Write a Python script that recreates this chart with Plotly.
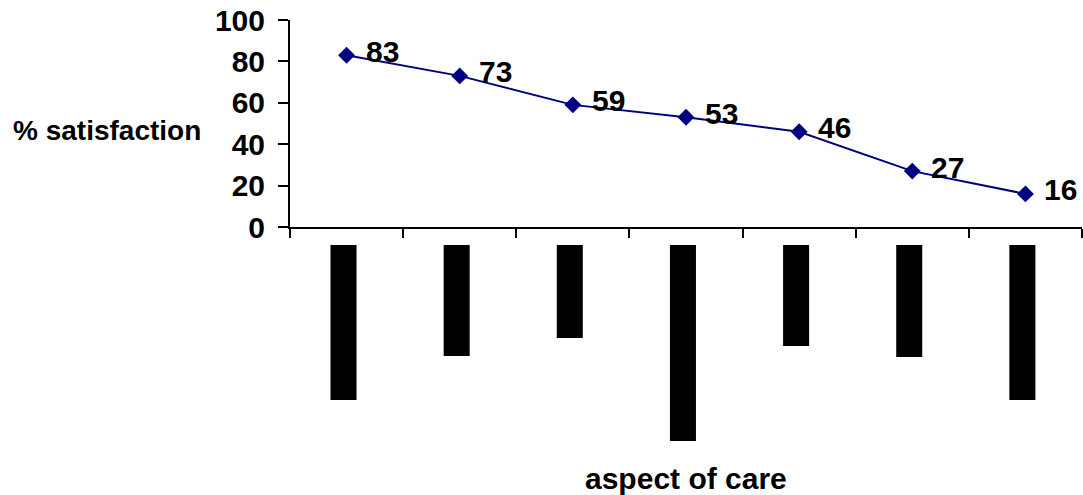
import plotly.graph_objects as go

# Aspects of care (seven items along the x axis) and satisfaction scores
aspects = ["A1", "A2", "A3", "A4", "A5", "A6", "A7"]
satisfaction = [83, 73, 59, 53, 46, 27, 16]

# Length of each (masked) category label block beneath the axis
label_block_length = [155, 111, 93, 196, 101, 112, 155]

y_ticks = [0, 20, 40, 60, 80, 100]

W, H = 1083, 495
ML, MR, MT, MB = 290, 1, 20, 0
plot_h = H - MT - MB
plot_w = W - ML - MR

def frac(py):
    # convert a pixel row (from the top) into a paper fraction
    return (H - MB - py) / plot_h

font_family = "Liberation Sans, Arial, sans-serif"

fig = go.Figure()

fig.add_trace(go.Scatter(
    x=aspects, y=satisfaction,
    mode="lines+markers",
    line=dict(color="#000080", width=2),
    marker=dict(symbol="diamond", size=13, color="#000080"),
    showlegend=False,
    yaxis="y",
))

fig.add_trace(go.Bar(
    x=aspects, y=[-v for v in label_block_length],
    marker=dict(color="black", line=dict(width=0)),
    width=0.23, offset=-0.142,
    showlegend=False,
    yaxis="y2",
))

# value labels to the right of each marker
value_labels = [
    dict(x=a, y=v, xref="x", yref="y", text=str(v),
         xanchor="left", yanchor="middle", xshift=17, yshift=4,
         showarrow=False,
         font=dict(family=font_family, size=30, color="black", weight="bold"))
    for a, v in zip(aspects, satisfaction)
]

fig.update_layout(
    width=W, height=H,
    margin=dict(l=ML, r=MR, t=MT, b=MB, autoexpand=False),
    paper_bgcolor="white", plot_bgcolor="white",
    font=dict(family=font_family, color="black"),
    xaxis=dict(
        type="category", range=[-0.5, 6.5],
        showline=True, linecolor="black", linewidth=2,
        ticks="outside", tickson="boundaries", ticklen=9, tickwidth=2, tickcolor="black",
        showticklabels=False, showgrid=False, zeroline=False,
        anchor="y", automargin=False,
    ),
    yaxis=dict(
        domain=[frac(227), 1.0], range=[0, 100],
        tickvals=y_ticks,
        showline=True, linecolor="black", linewidth=2,
        ticks="outside", ticklen=10, tickwidth=2, tickcolor="black",
        ticklabelstandoff=7,
        tickfont=dict(family=font_family, size=30, weight="bold"),
        showgrid=False, zeroline=False, automargin=False,
    ),
    yaxis2=dict(
        domain=[frac(445), frac(245)], range=[-200, 0],
        visible=False, anchor="x", automargin=False,
    ),
    annotations=value_labels + [
        dict(text="% satisfaction", xref="paper", yref="paper",
             x=-(ML - 11) / plot_w, y=frac(130), xanchor="left", yanchor="middle",
             showarrow=False, font=dict(family=font_family, size=28, weight="bold")),
        dict(text="aspect of care", xref="paper", yref="paper",
             x=(686 - ML) / plot_w, y=frac(478), xanchor="center", yanchor="middle",
             showarrow=False, font=dict(family=font_family, size=30, weight="bold")),
    ],
)

fig.write_html("out.html")
